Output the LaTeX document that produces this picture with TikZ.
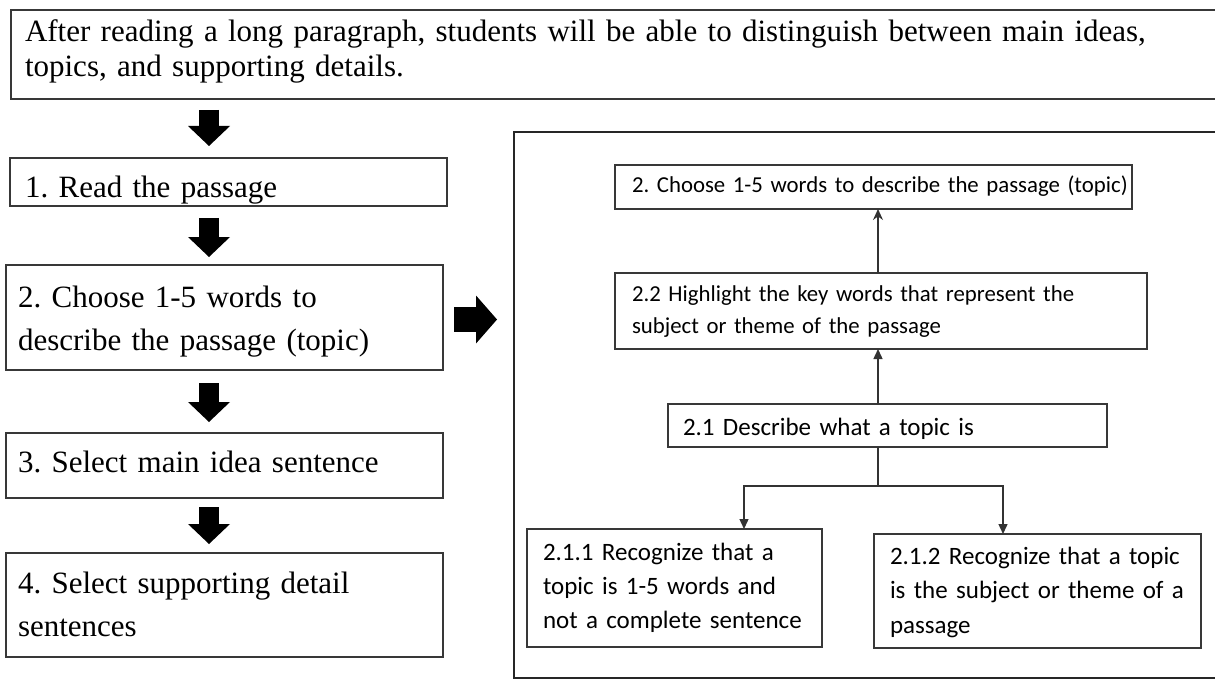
\documentclass[tikz,border=0pt]{standalone}
\usepackage{fontspec}
\setmainfont{Liberation Serif}
\newfontfamily\calfont[WordSpace=0.8]{Carlito}
\usetikzlibrary{arrows.meta}
\frenchspacing
\begin{document}
\frenchspacing
\begin{tikzpicture}[x=1pt,y=-1pt,
  box/.style={draw=black!78, rectangle, outer sep=0pt, inner ysep=0pt, align=left, text=black},
  lbox/.style={box, line width=2pt, font=\frenchspacing\fontsize{31}{43}\selectfont},
  rbox/.style={box, line width=1.7pt},
  blk/.style={line width=20pt, black, -{Triangle[length=20pt,width=42pt,line width=0pt]}},
  blkr/.style={line width=25pt, black, -{Triangle[length=21pt,width=48pt,line width=0pt]}},
  conn/.style={draw=black!80, line width=1.4pt},
  arr/.style={-{Triangle[length=10pt,width=9pt]}},
  arrs/.style={-{Stealth[length=11pt,width=10pt]}}
]
\useasboundingbox (0,0) rectangle (1215,679);
\clip (0,0) rectangle (1215,679);

% left column
\node[lbox, minimum width=1214pt, minimum height=89pt, inner xsep=14pt, text width=1186pt,
      text height=30pt, text depth=55pt, font=\frenchspacing\fontsize{31}{35}\selectfont] (top) at (618,54.5)
  {After reading a long paragraph, students will be able to distinguish between main ideas,\\topics, and supporting details.};
\node[lbox, minimum width=437pt, minimum height=48pt, inner xsep=15pt, text width=407pt,
      text height=34pt, text depth=4pt] (b1) at (228.5,182) {1. Read the passage};
\node[lbox, minimum width=437pt, minimum height=105pt, inner xsep=12pt, text width=413pt,
      text height=33pt, text depth=54pt] (b2) at (224.5,317.5) {2. Choose 1-5 words to\\describe the passage (topic)};
\node[lbox, minimum width=437pt, minimum height=65pt, inner xsep=12pt, text width=413pt,
      text height=30pt, text depth=17pt] (b3) at (224.5,465.5) {3. Select main idea sentence};
\node[lbox, minimum width=437pt, minimum height=104pt, inner xsep=12pt, text width=413pt,
      text height=30pt, text depth=54pt] (b4) at (224.5,605) {4. Select supporting detail\\sentences};

% right panel
\node[draw=black!85, line width=2pt, rectangle, outer sep=0pt, minimum width=716pt, minimum height=546pt] (panel) at (872,405) {};
\node[rbox, minimum width=517pt, minimum height=44pt, inner xsep=17pt, text width=483pt,
      text height=24pt, text depth=12pt, font=\frenchspacing\calfont\fontsize{22.8}{32}\selectfont] (p0) at (873.5,187)
  {\mbox{2. Choose 1-5 words to describe the passage (topic)}};
\node[rbox, minimum width=532pt, minimum height=76pt, inner xsep=17pt, text width=498pt,
      text height=24pt, text depth=44pt, font=\frenchspacing\calfont\fontsize{22.8}{32}\selectfont] (p22) at (881,311)
  {2.2 Highlight the key words that represent the\\subject or theme of the passage};
\node[rbox, minimum width=439pt, minimum height=43pt, inner xsep=15pt, text width=409pt,
      text height=28pt, text depth=8pt, font=\frenchspacing\calfont\fontsize{25}{34}\selectfont] (p21) at (887.5,425.5)
  {2.1 Describe what a topic is};
\node[rbox, minimum width=295pt, minimum height=118pt, inner xsep=16pt, text width=263pt,
      text height=24pt, text depth=80pt, font=\frenchspacing\calfont\fontsize{25}{34}\selectfont] (p211) at (674.5,588)
  {2.1.1 Recognize that a\\topic is 1-5 words and\\not a complete sentence};
\node[rbox, minimum width=327pt, minimum height=114pt, inner xsep=16pt, text width=295pt,
      text height=24pt, text depth=78pt, font=\frenchspacing\calfont\fontsize{25}{34.5}\selectfont] (p212) at (1037.5,591)
  {2.1.2 Recognize that a topic\\is the subject or theme of a\\passage};

% block arrows
\coordinate (ax) at (209,0);
\coordinate (ry) at (0,319.5);
\draw[blk, shorten <=11pt, shorten >=12pt] (top.south -| ax) -- (b1.north -| ax);
\draw[blk, shorten <=12pt, shorten >=8pt] (b1.south -| ax) -- (b2.north -| ax);
\draw[blk, shorten <=13pt, shorten >=11pt] (b2.south -| ax) -- (b3.north -| ax);
\draw[blk, shorten <=9pt, shorten >=9pt] (b3.south -| ax) -- (b4.north -| ax);
\draw[blkr, shorten <=11pt, shorten >=17pt] (b2.east |- ry) -- (panel.west |- ry);

% panel connectors
\coordinate (spine) at (878,0);
\coordinate (fork) at (878,486);
\coordinate (l1) at (744,0);
\coordinate (l2) at (1003,0);
\draw[conn, arrs] (p22.north -| spine) -- (p0.south -| spine);
\draw[conn, arr] (p21.north -| spine) -- (p22.south -| spine);
\draw[conn] (p21.south -| spine) -- (fork);
\draw[conn, arr] (fork) -| (p211.north -| l1);
\draw[conn, arr] (fork) -| (p212.north -| l2);
\end{tikzpicture}
\end{document}
